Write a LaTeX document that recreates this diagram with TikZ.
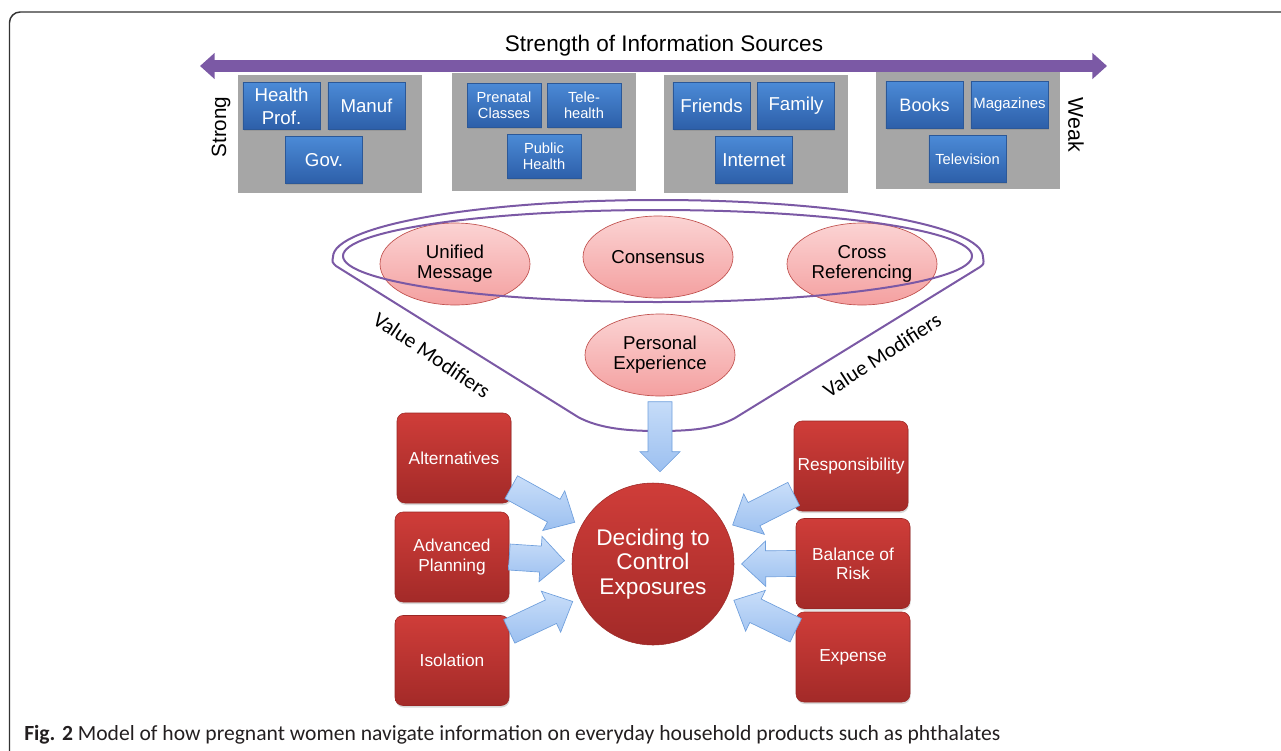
\documentclass[tikz,border=0pt]{standalone}
\usepackage{fontspec}
\setmainfont{Liberation Sans}
\newfontfamily\calfont{Carlito}
\usetikzlibrary{arrows.meta,calc,shapes.geometric,shadows}

\definecolor{framecol}{HTML}{333333}
\definecolor{srcgray}{HTML}{A6A6A6}
\definecolor{srctop}{HTML}{4B8AD6}
\definecolor{srcbot}{HTML}{2D5FA9}
\definecolor{srcline}{HTML}{2B5898}
\definecolor{purp}{HTML}{7B59A5}
\definecolor{pinktop}{HTML}{FBD3D3}
\definecolor{pinkbot}{HTML}{F4A0A0}
\definecolor{pinkline}{HTML}{C0504D}
\definecolor{redtop}{HTML}{CF3D39}
\definecolor{redbot}{HTML}{A32A28}
\definecolor{redline}{HTML}{9A2725}
\definecolor{arrtop}{HTML}{C9DEF9}
\definecolor{arrbot}{HTML}{9CC0F0}
\definecolor{arrline}{HTML}{6F9FDC}
\definecolor{captext}{HTML}{231F20}

\tikzset{
  group/.style={fill=srcgray, minimum width=138pt, minimum height=88pt, inner sep=0pt},
  src/.style={draw=srcline, line width=0.4pt, top color=srctop, bottom color=srcbot, text=white,
    minimum width=58pt, minimum height=35pt, inner sep=1pt, align=center,
    font=\fontsize{14}{17}\selectfont,
    drop shadow={shadow xshift=0.5pt, shadow yshift=-1.2pt, opacity=0.35}},
  srcsmall/.style={src, minimum width=55.5pt, minimum height=33pt, font=\fontsize{11}{12}\selectfont},
  modifier/.style={ellipse, draw=pinkline, line width=0.5pt, top color=pinktop, bottom color=pinkbot,
    minimum width=112.5pt, minimum height=61.5pt, inner sep=0pt, align=center,
    font=\fontsize{14}{15}\selectfont},
  factor/.style={rounded corners=6pt, draw=redline, line width=0.4pt, top color=redtop,
    bottom color=redbot, text=white, minimum width=85.5pt, minimum height=67.5pt, inner sep=1pt,
    align=center, font=\fontsize{13}{14.3}\selectfont,
    drop shadow={shadow xshift=0.5pt, shadow yshift=-1.5pt, opacity=0.3}},
  decision/.style={circle, draw=redline, line width=0.4pt, top color=redtop, bottom color=redbot,
    minimum size=121.5pt, inner sep=0pt, text=white, align=center,
    font=\fontsize{17}{18.4}\selectfont},
  funnel/.style={draw=purp, line width=1.5pt},
  strengthaxis/.style={draw=purp, line width=9pt,
    {Triangle[length=11pt,width=19pt]}-{Triangle[length=11pt,width=19pt]}},
  valuelabel/.style={font=\calfont\fontsize{16}{18}\selectfont, inner sep=0pt},
  % fat block arrow between two points
  fat/.style={draw=arrline, line width=0.5pt, top color=arrtop, bottom color=arrbot,
    to path={let \p1=($(\tikztostart)!\fatB pt!(\tikztotarget)$), \p2=($(\tikztotarget)-(\p1)$),
      \n1={atan2(\y2,\x2)}, \n2={veclen(\x2,\y2)-\fatG pt-\fatL pt}, \n3={\n2+\fatL pt} in
      ($(\p1)+(\n1+90:\fatS pt)$) -- ($(\p1)+(\n1:\n2)+(\n1+90:\fatS pt)$)
      -- ($(\p1)+(\n1:\n2)+(\n1+90:\fatH pt)$) -- ($(\p1)+(\n1:\n3)$)
      -- ($(\p1)+(\n1:\n2)+(\n1-90:\fatH pt)$) -- ($(\p1)+(\n1:\n2)+(\n1-90:\fatS pt)$)
      -- ($(\p1)+(\n1-90:\fatS pt)$) -- cycle}},
  fatside/.style={fat, /utils/exec={\def\fatS{9.75}\def\fatH{17}\def\fatL{18}\def\fatG{5.5}\def\fatB{0}}},
  fatdown/.style={fat, /utils/exec={\def\fatS{9}\def\fatH{15}\def\fatL{15}\def\fatG{8.25}\def\fatB{4}}},
}

\begin{document}
\begin{tikzpicture}[x=0.75pt, y=0.75pt]
    \useasboundingbox (0,0) rectangle (1281,-750);
    \clip (0,0) rectangle (1281,-750);
    \draw [framecol, line width=1.1pt, rounded corners=8pt] (1300,-12) -- (9.5,-12) -- (9.5,-770);

    % information sources
    \node [group] (g1) at (330,-134) {};
    \node [group] (g2) at (543.5,-132) {};
    \node [group] (g3) at (756,-134) {};
    \node [group] (g4) at (967.5,-130.5) {};
    \node [src] (hp) at (281.5,-106) {Health\\Prof.};
    \node [src] (manuf) at (366.5,-106) {Manuf};
    \node [src] (gov) at (324,-160) {Gov.};
    \node [srcsmall] (prenatal) at (504,-105) {Prenatal\\Classes};
    \node [srcsmall] (tele) at (584,-105) {Tele-\\health};
    \node [srcsmall] (public) at (544,-156.5) {Public\\Health};
    \node [src] (friends) at (711.5,-106) {Friends};
    \node [src] (family) at (796,-106) {Family};
    \node [src] (internet) at (754,-160) {Internet};
    \node [src, font=\fontsize{13.5}{16}\selectfont] (books) at (924.5,-105) {Books};
    \node [src, font=\fontsize{11.2}{13}\selectfont] (mags) at (1009.5,-105) {Magazines};
    \node [src, font=\fontsize{11}{13}\selectfont] (tv) at (967.5,-159) {Television};

    \coordinate (strongend) at (200,-66);
    \coordinate (weakend) at (1107,-66);
    \draw [strengthaxis] (strongend) -- (weakend);
    \node [font=\fontsize{16.9}{19}\selectfont] (title) at (664,-46) {Strength of Information Sources};
    \node [rotate=90, font=\fontsize{15.5}{18}\selectfont] (strong) at (221,-127) {Strong};
    \node [rotate=-90, font=\fontsize{16}{18}\selectfont] (weak) at (1076,-125) {Weak};

    % value modifiers
    \node [modifier] (unified) at (455,-264) {Unified\\Message};
    \node [modifier] (consensus) at (658,-257) {Consensus};
    \node [modifier] (crossref) at (862,-264) {Cross\\Referencing};
    \node [modifier] (personal) at (660,-355) {Personal\\Experience};
    \draw [funnel] (657.5,-256) ellipse [x radius=314.5, y radius=46];
    \draw [funnel] (336,-266) -- (578,-417) .. controls (600,-429) and (630,-431) .. (658,-431)
        .. controls (690,-431) and (715,-429) .. (735,-418) -- (980,-267)
        .. controls (984,-264) .. (983,-257) arc [start angle=0, end angle=180, x radius=325, y radius=57]
        .. controls (332,-262) .. (336,-266);
    \node [valuelabel, rotate=-34] (vmleft) at (432,-355) {Value Modifiers};
    \node [valuelabel, rotate=33] (vmright) at (882,-355) {Value Modifiers};

    % factors
    \node [decision] (decide) at (653,-564) {Deciding to\\Control\\Exposures};
    \node [factor] (alt) at (454,-458) {Alternatives};
    \node [factor] (plan) at (452,-557) {Advanced\\Planning};
    \node [factor] (iso) at (452,-660.5) {Isolation};
    \node [factor] (resp) at (851,-466) {Responsibility};
    \node [factor] (balance) at (853,-563.5) {Balance of\\Risk};
    \node [factor] (expense) at (853,-657) {Expense};

    \draw [fatdown] (personal.south) to (personal.south |- decide.north);
    \draw [fatside] (alt.-27) to (decide.152);
    \draw [fatside] (plan.east) to (decide.178);
    \draw [fatside] (iso.27) to (decide.205);
    \draw [fatside] (resp.206) to (decide.26);
    \draw [fatside] (balance.west) to (decide.0);
    \draw [fatside] (expense.155) to (decide.-24);

    \node [anchor=base west, inner sep=0pt, text=captext, font=\calfont\fontsize{16.2}{19}\selectfont]
        (caption) at (24,-740) {\textbf{Fig. 2} Model of how pregnant women navigate information on everyday household products such as phthalates};
\end{tikzpicture}
\end{document}
